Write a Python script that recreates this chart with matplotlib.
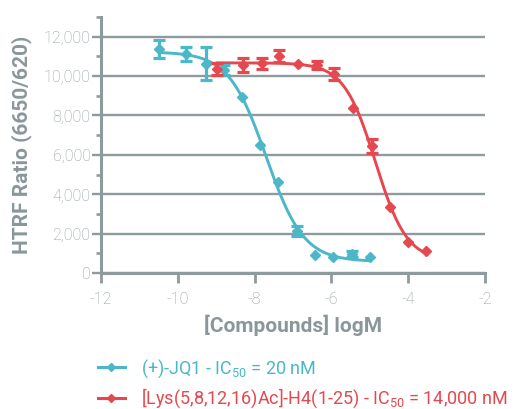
import numpy as np
import matplotlib
matplotlib.use("Agg")
import matplotlib.pyplot as plt
from matplotlib.lines import Line2D
from matplotlib.ticker import FuncFormatter, MultipleLocator

plt.rcParams['font.family'] = ['Roboto', 'DejaVu Sans']
plt.rcParams['mathtext.default'] = 'regular'
plt.rcParams['axes.unicode_minus'] = False

# ---- data ----
jq1_logm = [-10.49, -9.78, -9.27, -8.80, -8.34, -7.86, -7.38, -6.90, -6.43, -5.95, -5.47, -5.00]
jq1_ratio = [11380, 11130, 10630, 10300, 8920, 6500, 4635, 2130, 914, 830, 950, 800]
jq1_err = [460, 370, 840, 250, np.nan, np.nan, np.nan, 270, np.nan, np.nan, 150, np.nan]

h4_logm = [-8.99, -8.29, -7.82, -7.36, -6.86, -6.38, -5.92, -5.43, -4.95, -4.47, -4.00, -3.54]
h4_ratio = [10350, 10570, 10650, 11000, 10610, 10570, 10090, 8360, 6460, 3365, 1590, 1130]
h4_err = [300, 350, 280, 300, np.nan, 200, 300, np.nan, 350, np.nan, np.nan, np.nan]

ic50_nM = [20, 14000]
labels = ["(+)-JQ1 - IC$_{50}$ = 20 nM",
          "[Lys(5,8,12,16)Ac]-H4(1-25) - IC$_{50}$ = 14,000 nM"]
colors = ["#4BB7C8", "#E5484F"]

x_ticks = [-12, -10, -8, -6, -4, -2]
y_ticks = [0, 2000, 4000, 6000, 8000, 10000, 12000]

GRID = "#8D9A9E"
TICKLAB = "#8E9B9E"
LABEL = "#8A979A"


def fit_4pl(x, y, logic50):
    """Least-squares 4PL fit with fixed IC50: solve hill by grid, top/bottom linearly."""
    x = np.asarray(x, float)
    y = np.asarray(y, float)
    best = None
    for h in np.arange(0.4, 3.0, 0.005):
        s = 1.0 / (1.0 + 10 ** ((x - logic50) * h))
        A = np.vstack([np.ones_like(s), s]).T
        coef, *_ = np.linalg.lstsq(A, y, rcond=None)
        sse = np.sum((A @ coef - y) ** 2)
        if best is None or sse < best[0]:
            best = (sse, h, coef)
    _, h, (b, a) = best
    return lambda xx: b + a / (1.0 + 10 ** ((xx - logic50) * h))


fig = plt.figure(figsize=(5.15, 4.09), dpi=100)
ax = fig.add_axes([101 / 515, (409 - 273) / 409, 384 / 515, 256 / 409])

series = [(jq1_logm, jq1_ratio, jq1_err), (h4_logm, h4_ratio, h4_err)]
for (xs, ys, es), ic, c in zip(series, ic50_nM, colors):
    f = fit_4pl(xs, ys, np.log10(ic * 1e-9))
    xx = np.linspace(min(xs), max(xs), 300)
    ax.plot(xx, f(xx), color=c, lw=2.1, zorder=3, solid_capstyle='round')
    ax.plot(xs, ys, ls='none', marker='D', ms=5, color=c, zorder=4)
    ax.errorbar(xs, ys, yerr=es, fmt='none', ecolor=c, elinewidth=2.3,
                capsize=4, capthick=2.3, zorder=5)

ax.set_xlim(-12, -2)
ax.set_ylim(0, 13000)
ax.set_xticks(x_ticks)
ax.set_yticks(y_ticks)
ax.yaxis.set_minor_locator(MultipleLocator(1000))
ax.yaxis.set_major_formatter(FuncFormatter(lambda v, p: f"{int(v):,}"))
ax.xaxis.set_major_formatter(FuncFormatter(lambda v, p: f"-{abs(int(v))}"))

ax.grid(axis='y', which='major', color=GRID, lw=1.7, zorder=1)
ax.set_axisbelow(True)
for s in ['top', 'right']:
    ax.spines[s].set_visible(False)
for s in ['left', 'bottom']:
    ax.spines[s].set_color(GRID)
    ax.spines[s].set_linewidth(2.2)
    ax.spines[s].set_zorder(2)

ax.tick_params(axis='y', which='major', direction='out', length=6.5, width=1.7,
               color=GRID, labelcolor=TICKLAB, labelsize=11.5, pad=1)
ax.tick_params(axis='y', which='minor', direction='out', length=3.5, width=1.9, color=GRID)
ax.tick_params(axis='x', which='major', direction='out', length=7, width=2,
               color=GRID, labelcolor=TICKLAB, labelsize=11.5, pad=6.5)
for t in ax.get_xticklabels() + ax.get_yticklabels():
    t.set_fontweight('light')

ax.set_ylabel("HTRF Ratio (6650/620)", fontsize=15, fontweight='bold', color=LABEL)
ax.yaxis.set_label_coords(-0.18, 0.5)
ax.set_xlabel("[Compounds] logM", fontsize=15, fontweight='bold', color=LABEL)
ax.xaxis.set_label_coords(0.5, -0.163)

handles = [Line2D([0], [0], color=c, lw=2.2, marker='D', ms=4.5) for c in colors]
leg = fig.legend(handles, labels, loc='upper left', bbox_to_anchor=(98 / 515, 1 - 357 / 409),
                 frameon=False, handlelength=1.47, handletextpad=0.92,
                 borderpad=0, borderaxespad=0, labelspacing=0.4,
                 prop={'family': ['Roboto', 'DejaVu Sans'], 'weight': 'normal', 'size': 13})
for t, c in zip(leg.get_texts(), colors):
    t.set_color(c)

fig.savefig("out.png", dpi=100)
